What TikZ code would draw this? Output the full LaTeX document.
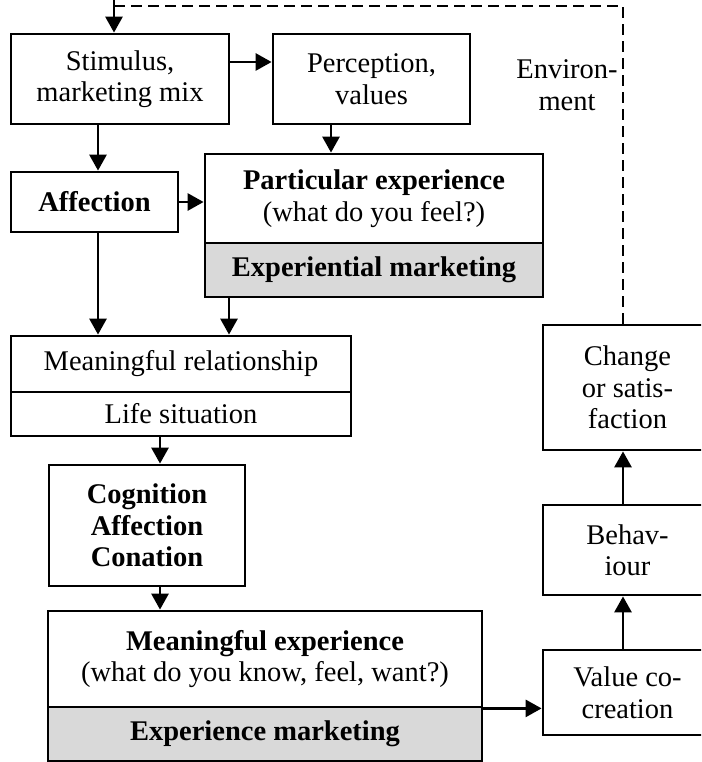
\documentclass[tikz,border=0pt]{standalone}
\usepackage{fontspec}
\setmainfont{Liberation Serif}
\usetikzlibrary{arrows.meta}
\definecolor{boxgray}{RGB}{217,217,217}
\begin{document}
\begin{tikzpicture}[x=1pt,y=-1pt,
  box/.style={draw,line width=2.8pt,align=center,inner sep=0pt,
    font=\fontsize{28.5}{31.5}\selectfont},
  graybox/.style={box,fill=boxgray},
  arr/.style={line width=2.8pt,-{Triangle[length=16pt,width=17pt]}},
  envline/.style={line width=2.2pt,dash pattern=on 11pt off 6pt}]
\useasboundingbox (0,0) rectangle (701,762);
\clip (0,0) rectangle (701,762);
% nodes
\node[box,minimum width=218pt,minimum height=90pt] (stim) at (120,79) {Stimulus,\\marketing mix};
\node[box,minimum width=197pt,minimum height=90pt] (perc) at (371.5,79) {Perception,\\values};
\node[box,minimum width=167pt,minimum height=60pt] (aff) at (94.5,202) {\textbf{Affection}};
\node[box,minimum width=338pt,minimum height=89pt] (part) at (374,198.5) {\textbf{Particular experience}\\(what do you feel?)};
\node[graybox,minimum width=338pt,minimum height=54pt] (pg) at (374,270) {\textbf{Experiential marketing}};
\node[box,minimum width=340pt,minimum height=56pt] (mr) at (181,364) {Meaningful relationship};
\node[box,minimum width=340pt,minimum height=44pt] (ls) at (181,414) {Life situation};
\node[box,minimum width=196pt,minimum height=121pt] (cog) at (147,525.5) {\textbf{Cognition}\\\textbf{Affection}\\\textbf{Conation}};
\node[box,minimum width=434pt,minimum height=96pt] (me) at (265,659) {\textbf{Meaningful experience}\\(what do you know, feel, want?)};
\node[graybox,minimum width=434pt,minimum height=54pt] (em) at (265,734) {\textbf{Experience marketing}};
\node[box,minimum width=169pt,minimum height=85pt] (vc) at (627.5,692.5) {Value co-\\creation};
\node[box,minimum width=169pt,minimum height=90pt] (beh) at (627.5,550) {Behav-\\iour};
\node[box,minimum width=169pt,minimum height=125pt] (chg) at (627.5,387.5) {Change\\or satis-\\faction};
\node[align=center,inner sep=0pt,font=\fontsize{28.5}{31.5}\selectfont] (env) at (567,85) {Environ-\\ment};
\coordinate (topL) at (114,6);
\coordinate (top0) at (114,0);
% connectors
\draw[envline] ([xshift=-4.5pt]chg.north) |- (topL);
\draw[arr] (top0) -- (top0 |- stim.north);
\draw[arr] ([yshift=17pt]stim.east) -- ([yshift=17pt]stim.east -| perc.west);
\draw[arr] ([xshift=-22pt]stim.south) -- ([xshift=-22pt]stim.south |- aff.north);
\draw[arr] ([xshift=-40.5pt]perc.south) -- ([xshift=-40.5pt]perc.south |- part.north);
\draw[arr] (aff.east) -- (aff.east -| part.west);
\draw[arr] ([xshift=3.5pt]aff.south) -- ([xshift=3.5pt]aff.south |- mr.north);
\draw[arr] ([xshift=-145pt]pg.south) -- ([xshift=-145pt]pg.south |- mr.north);
\draw[arr] ([xshift=-21pt]ls.south) -- ([xshift=-21pt]ls.south |- cog.north);
\draw[arr] ([xshift=13pt]cog.south) -- ([xshift=13pt]cog.south |- me.north);
\draw[arr] (me.south east) -- (me.south east -| vc.west);
\draw[arr] ([xshift=-4.5pt]vc.north) -- ([xshift=-4.5pt]vc.north |- beh.south);
\draw[arr] ([xshift=-4.5pt]beh.north) -- ([xshift=-4.5pt]beh.north |- chg.south);
\end{tikzpicture}
\end{document}
